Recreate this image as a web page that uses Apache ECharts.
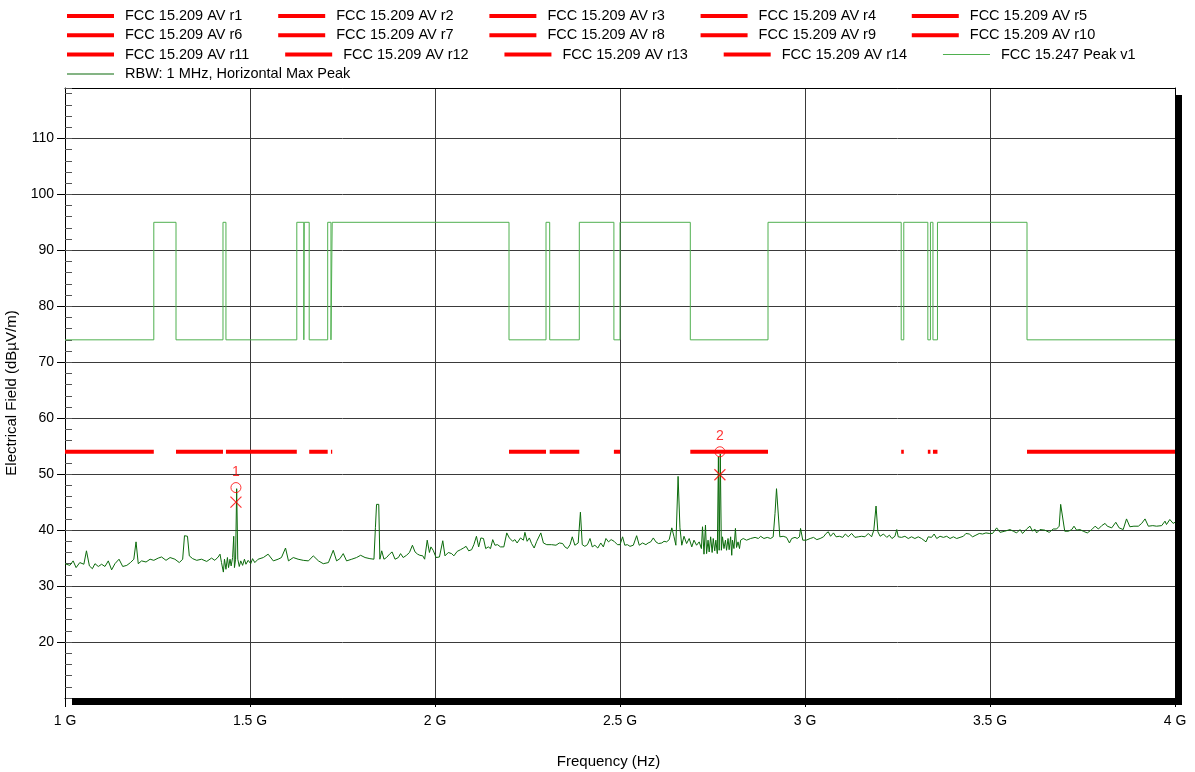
<!DOCTYPE html>
<html>
<head>
<meta charset="utf-8">
<script src="https://cdn.jsdelivr.net/npm/echarts@6/dist/echarts.min.js"></script>
<style>
html,body{margin:0;padding:0;background:#fff;}
#chart{width:1195px;height:772px;}
</style>
</head>
<body>
<div id="chart"></div>
<script>
// ---- Data (frequencies in MHz, levels in dBµV/m) ----
const xTickLabels = ['1 G', '1.5 G', '2 G', '2.5 G', '3 G', '3.5 G', '4 G'];

// FCC 15.205 restricted bands (r1..r14)
const bandStart = [1000, 1300, 1435, 1645.5, 1660, 1718.8, 2200, 2310, 2483.5, 2690, 3260, 3332, 3345.8, 3600];
const bandEnd   = [1240, 1427, 1626.5, 1646.5, 1710, 1722.2, 2300, 2390, 2500, 2900, 3267, 3339, 3358, 4000];
const avgLimit = 54;
const peakLimitHigh = 95;
const peakLimitLow = 74;

// Measured trace: RBW 1 MHz, Horizontal Max Peak
const traceFreq = [
1000,1013,1022,1030,1040,1051,1058,1066,1074,1081,1090,1099,1108,1117,1126,1135,1146,1156,1167,1177,
1186,1192,1198,1207,1219,1230,1240,1252,1261,1273,1284,1297,1309,1318,1323,1331,1336,1345,1356,1369,
1383,1396,1405,1414,1419,1423,1428,1431,1435,1439,1442,1446,1449,1453,1456,1458,1461,1464,1467,1471,
1475,1480,1485,1489,1495,1502,1507,1513,1522,1536,1549,1563,1576,1585,1596,1604,1617,1630,1644,1658,
1671,1685,1698,1712,1725,1734,1743,1752,1761,1775,1788,1799,1811,1824,1835,1839,1842,1848,1851,1856,
1862,1869,1877,1884,1892,1901,1907,1914,1923,1931,1939,1946,1953,1959,1967,1972,1979,1985,1989,1995,
2003,2012,2021,2027,2036,2045,2051,2060,2069,2077,2084,2091,2099,2105,2112,2118,2124,2131,2137,2144,
2150,2156,2162,2169,2177,2186,2194,2201,2210,2216,2222,2231,2239,2243,2249,2255,2261,2268,2275,2279,
2286,2293,2302,2315,2327,2336,2345,2351,2358,2365,2371,2378,2387,2393,2398,2405,2412,2419,2425,2432,
2440,2448,2455,2462,2469,2476,2484,2493,2500,2507,2513,2520,2527,2536,2545,2552,2561,2570,2576,2583,
2590,2597,2604,2613,2619,2626,2633,2640,2646,2651,2657,2662,2667,2673,2680,2687,2694,2700,2707,2714,
2720,2723,2727,2731,2734,2738,2741,2745,2749,2752,2756,2759,2763,2766,2768,2771,2774,2777,2781,2785,
2788,2792,2795,2799,2802,2804,2808,2812,2815,2819,2823,2826,2833,2842,2853,2865,2874,2880,2889,2898,
2907,2914,2919,2923,2928,2932,2941,2950,2958,2964,2973,2979,2985,2988,2994,3003,3014,3023,3032,3041,
3050,3057,3063,3069,3077,3084,3093,3102,3109,3117,3126,3135,3144,3153,3162,3171,3180,3186,3192,3197,
3203,3212,3221,3228,3235,3243,3248,3252,3261,3270,3279,3288,3297,3306,3315,3327,3333,3342,3349,3356,
3365,3374,3383,3392,3401,3410,3419,3428,3435,3444,3453,3462,3471,3480,3489,3498,3507,3518,3527,3540,
3554,3563,3572,3581,3588,3599,3608,3615,3621,3626,3635,3648,3660,3671,3680,3687,3691,3696,3702,3712,
3721,3727,3734,3743,3752,3763,3775,3784,3793,3802,3811,3817,3829,3840,3849,3860,3869,3878,3889,3901,
3910,3919,3928,3940,3950,3964,3973,3977,3986,3995,4000
];
const traceLevel = [
34.0,33.7,34.5,33.3,34.2,33.9,36.3,33.6,33.1,34.0,33.5,33.9,33.5,34.5,32.9,34.0,34.8,33.5,33.7,34.2,
34.8,37.9,34.0,34.5,34.3,34.8,34.6,35.0,35.2,34.6,35.1,34.8,34.2,34.8,39.0,38.9,35.4,34.9,34.6,34.8,
34.4,35.0,34.6,35.2,35.7,34.2,32.5,34.8,33.0,35.1,33.3,34.8,33.6,35.1,38.9,33.3,34.8,47.4,34.8,33.5,
34.5,33.7,34.8,33.9,34.6,34.0,34.9,34.2,34.8,35.1,35.7,34.5,34.8,35.1,36.8,34.5,35.1,34.8,34.6,34.5,
35.4,34.5,34.0,34.2,36.4,34.5,34.9,35.8,34.5,34.8,35.1,35.5,35.1,34.9,34.8,40.5,44.6,44.6,34.8,36.3,
34.8,35.1,35.7,36.1,34.8,35.1,35.8,35.1,35.5,36.0,37.3,36.1,35.7,35.5,35.4,34.8,38.2,36.0,37.0,36.4,
35.1,35.2,38.1,35.4,36.0,35.8,35.4,36.2,36.5,36.8,37.1,36.3,36.5,37.4,38.9,37.0,38.6,38.5,36.7,37.0,
36.7,38.3,37.3,37.4,37.0,37.0,39.5,38.6,38.0,38.3,37.7,38.6,38.2,39.6,38.0,38.6,37.6,36.8,38.0,38.3,
39.5,37.7,37.4,37.4,37.3,37.7,37.6,37.0,36.7,37.4,38.8,37.3,37.7,43.2,37.4,37.1,37.4,38.5,37.0,37.3,
36.8,37.7,37.0,38.5,37.9,38.3,38.0,37.4,37.4,38.8,37.3,37.4,37.1,37.3,39.0,37.3,37.7,37.4,37.7,37.9,
38.6,37.9,37.6,37.7,38.0,37.9,38.3,40.4,38.8,37.3,49.6,40.4,37.3,38.9,37.6,38.5,37.0,38.2,37.3,37.9,
36.7,40.6,35.7,40.9,35.8,38.2,36.1,38.8,36.0,38.5,36.3,38.2,35.8,53.1,36.4,53.6,36.4,38.8,36.7,38.2,
36.4,38.5,36.5,38.8,35.5,38.2,36.7,40.3,36.9,37.9,36.7,38.2,38.5,38.2,38.5,38.7,38.5,38.9,38.5,38.7,
38.5,38.8,43.0,47.4,47.4,38.8,38.9,38.7,37.7,38.5,38.7,38.5,38.8,40.3,38.2,38.2,38.5,38.7,38.3,38.5,
38.8,39.4,39.7,38.9,39.5,38.8,38.9,38.7,39.3,38.8,39.4,38.7,38.8,38.9,38.8,39.4,38.8,40.0,44.3,39.7,
38.9,39.3,38.7,39.1,38.5,38.9,40.1,38.8,38.7,38.9,38.5,38.8,38.5,38.8,38.5,37.9,38.8,38.7,39.3,38.5,
38.9,38.7,38.9,38.5,38.8,38.5,38.7,38.9,39.4,39.3,38.8,39.1,39.4,39.3,39.5,39.4,39.4,40.4,39.6,39.8,
40.1,39.8,39.5,40.1,39.4,40.2,40.7,39.8,40.2,39.5,40.1,40.0,39.6,40.2,40.2,40.7,44.6,44.6,39.8,39.8,
40.1,40.7,40.0,40.1,39.8,39.5,40.1,40.7,40.2,40.8,41.2,40.7,40.4,41.4,40.4,40.1,42.0,40.6,40.7,40.7,
41.2,42.0,40.7,40.8,40.7,40.8,41.6,41.0,41.9,41.2,41.4
];

// Markers
const markerLabels = ['1', '2'];
const markerFreq = [1462, 2770];
const markerPeak = [47.6, 54.0];
const markerAvg = [45.0, 49.9];

// ---- Build series ----
const FONT = 'Liberation Sans, Arial, sans-serif';
const RED = '#ff0000';
const series = [];
const legendData = [];
const redIcon = 'path://M0,0 M0,14 M0,5 L47,5 L47,9 L0,9 Z';
const thinIcon = 'path://M0,0 M0,14 M0,6.5 L47,6.5 L47,7.5 L0,7.5 Z';

bandStart.forEach((s, i) => {
  const name = 'FCC 15.209 AV r' + (i + 1);
  series.push({
    name, type: 'line', symbol: 'none', silent: true,
    color: RED,
    lineStyle: { color: RED, width: 4, cap: 'butt' },
    data: [[s, avgLimit], [bandEnd[i], avgLimit]],
    z: 3
  });
  legendData.push({ name, icon: redIcon });
});

// Peak limit (74 inside restricted bands, 95 elsewhere)
const peakData = [];
let cur = 1000;
bandStart.forEach((s, i) => {
  if (s > cur) {
    peakData.push([cur, peakLimitHigh], [s, peakLimitHigh]);
  }
  peakData.push([s, peakLimitLow], [bandEnd[i], peakLimitLow]);
  cur = bandEnd[i];
});
if (cur < 4000) peakData.push([cur, peakLimitHigh], [4000, peakLimitHigh]);

series.push({
  name: 'FCC 15.247 Peak v1', type: 'line', symbol: 'none', silent: true,
  color: '#4fb04f',
  lineStyle: { color: '#4fb04f', width: 1 },
  data: peakData, z: 2
});
legendData.push({ name: 'FCC 15.247 Peak v1', icon: thinIcon });

series.push({
  name: 'RBW: 1 MHz, Horizontal Max Peak', type: 'line', symbol: 'none', silent: true,
  color: '#0b6b0b',
  lineStyle: { color: '#0b6b0b', width: 1 },
  data: traceFreq.map((f, i) => [f, traceLevel[i]]), z: 4
});
legendData.push({ name: 'RBW: 1 MHz, Horizontal Max Peak', icon: thinIcon });

series.push({
  name: 'markerPeak', type: 'scatter', symbol: 'circle', symbolSize: 10, silent: true,
  itemStyle: { color: 'transparent', borderColor: RED, borderWidth: 1 },
  label: {
    show: true, position: 'top', distance: 3, color: RED, fontSize: 14, fontFamily: FONT,
    formatter: p => markerLabels[p.dataIndex]
  },
  data: markerFreq.map((f, i) => [f, markerPeak[i]]), z: 6
});
series.push({
  name: 'markerAvg', type: 'scatter', symbol: 'path://M0,0 L10,10 M10,0 L0,10', symbolSize: 11, silent: true,
  itemStyle: { color: 'transparent', borderColor: RED, borderWidth: 1.2 },
  data: markerFreq.map((f, i) => [f, markerAvg[i]]), z: 6
});

const chart = echarts.init(document.getElementById('chart'), null, { renderer: 'canvas' });
chart.setOption({
  animation: false,
  backgroundColor: '#fff',
  textStyle: { fontFamily: FONT },
  legend: {
    data: legendData,
    left: 67, top: 8.5, width: 1120,
    padding: 0,
    itemWidth: 47, itemHeight: 14, itemGap: 4.3,
    selectedMode: false,
    textStyle: { fontSize: 14.5, fontFamily: FONT, color: '#000', lineHeight: 15, padding: [0, 31.5, 0, 6] }
  },
  grid: {
    left: 65, right: 20, top: 88, bottom: 74,
    outerBoundsMode: 'none', containLabel: false,
    show: true, backgroundColor: '#fff', borderWidth: 0,
    shadowColor: '#000', shadowBlur: 0, shadowOffsetX: 7, shadowOffsetY: 7
  },
  xAxis: [{
    type: 'value', min: 1000, max: 4000, interval: 500,
    name: 'Frequency (Hz)', nameLocation: 'middle', nameGap: 56,
    nameTextStyle: { fontSize: 15, color: '#000', fontFamily: FONT, padding: [0, 23, 0, 0] },
    axisLine: { show: true, lineStyle: { color: '#000', width: 1 } },
    axisTick: { show: true, length: 9, lineStyle: { color: '#000' } },
    axisLabel: { fontSize: 14, color: '#000', margin: 16, fontFamily: FONT,
      formatter: (v) => xTickLabels[Math.round((v - 1000) / 500)] },
    splitLine: { show: true, lineStyle: { color: '#3a3a3a', width: 1 } }
  }, {
    type: 'value', min: 1000, max: 4000, position: 'top',
    axisLine: { show: true, onZero: false, lineStyle: { color: '#000', width: 1 } },
    axisTick: { show: false }, axisLabel: { show: false }, splitLine: { show: false }
  }],
  yAxis: [{
    type: 'value', min: 10, max: 119, interval: 10,
    name: 'Electrical Field (dBµV/m)', nameLocation: 'middle', nameGap: 41,
    nameTextStyle: { fontSize: 15, color: '#000', fontFamily: FONT },
    axisLine: { show: true, lineStyle: { color: '#000', width: 1 } },
    axisTick: { show: true, length: 8, lineStyle: { color: '#000' } },
    axisLabel: { fontSize: 14, color: '#000', margin: 11, fontFamily: FONT,
      showMinLabel: false, showMaxLabel: false },
    splitLine: { show: true, lineStyle: { color: '#3a3a3a', width: 1 } }
  }, {
    type: 'value', min: 10, max: 119, interval: 2, position: 'left', offset: 0,
    axisLine: { show: false },
    axisTick: { show: true, inside: true, length: 7, lineStyle: { color: '#555' } },
    axisLabel: { show: false },
    splitLine: { show: false }
  }, {
    type: 'value', min: 10, max: 119, position: 'right', offset: 0,
    axisLine: { show: true, onZero: false, lineStyle: { color: '#000', width: 1 } },
    axisTick: { show: false }, axisLabel: { show: false }, splitLine: { show: false }
  }],
  series
});
</script>
</body>
</html>
